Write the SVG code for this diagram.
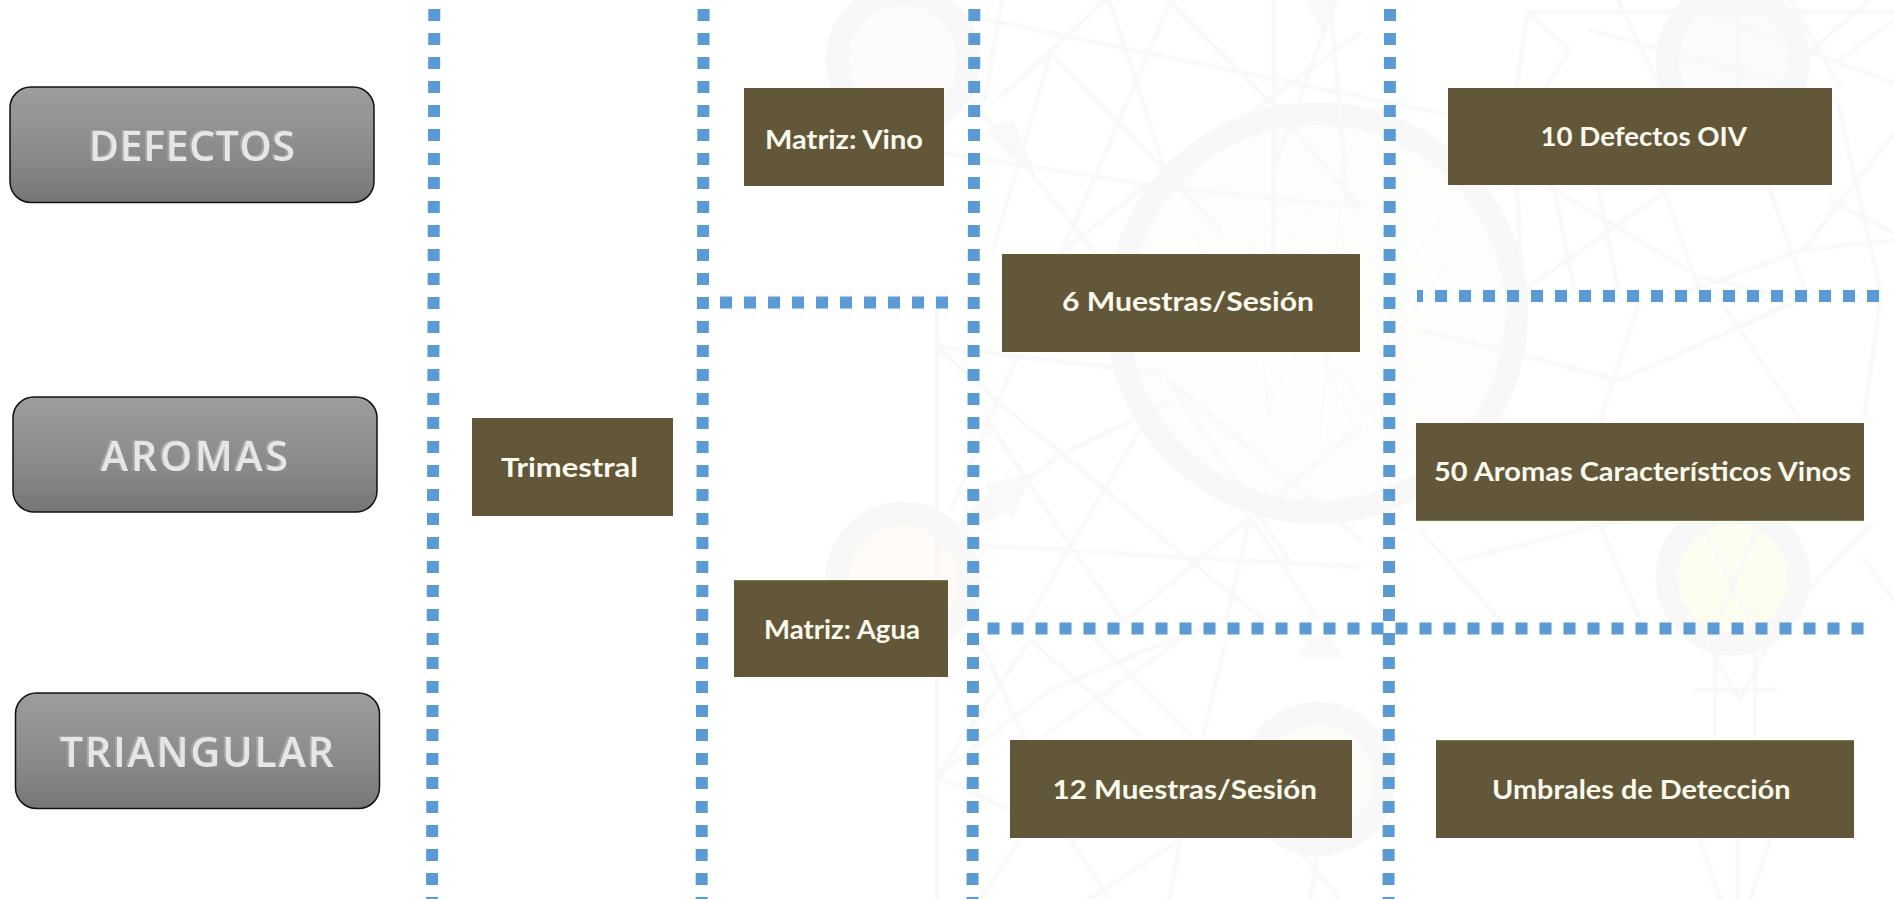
<svg xmlns="http://www.w3.org/2000/svg" width="1894" height="899" viewBox="0 0 1894 899">
<style>
.net{fill:none;stroke:#f8f8f8;stroke-width:4;stroke-linecap:round;filter:blur(1px)}
.fine{fill:none;stroke:#f9f9f7;stroke-width:1}
.ring{stroke:#f8f8f8;stroke-width:23}
.arrow{fill:#f9f9f9}
.dots{fill:none;stroke:#5b9bd5;stroke-width:12;stroke-dasharray:12 12}
.box{fill:#625839}
.edge{stroke:#6f8040;stroke-width:1.2}
.btn{fill:url(#g);stroke:#111;stroke-width:1.5}
.lab{font-family:"Lato","Liberation Sans",sans-serif;font-weight:700;font-size:27px;fill:#fbf8ee}
.big{font-family:"Open Sans","Liberation Sans",sans-serif;font-weight:600;font-size:41px;fill:#e6e6e6;filter:drop-shadow(-1.2px -0.6px 0.4px #a6a6a6)}
</style>
<defs>
<linearGradient id="g" x1="0" y1="0" x2="0" y2="1">
<stop offset="0" stop-color="#9d9d9d"/><stop offset="0.6" stop-color="#8a8a8a"/><stop offset="1" stop-color="#767676"/>
</linearGradient>
</defs>
<rect width="1894" height="899" fill="#fff"/>
<g id="background">
<circle class="ring" cx="903" cy="60" r="66" fill="#fdfcfa"/>
<circle class="ring" cx="903" cy="579" r="66" fill="#fefaf6"/>
<circle class="ring" cx="1733" cy="60" r="66" fill="#fafbfd"/>
<circle class="ring" cx="1733" cy="578" r="66" fill="#fefef0"/>
<circle class="ring" cx="1317" cy="313" r="199.500" fill="#fdfdfb"/>
<circle class="ring" cx="1318" cy="779" r="66" fill="#fcfdf8"/>
<path class="arrow" d="M1013 120L1032 165L1010 158L985 130Z"/>
<path class="arrow" d="M1032 473L985 484L990 493L958 522L965 532L1006 512L1013 518Z"/>
<path class="arrow" d="M1304 0L1323 33L1338 0Z"/>
<path class="arrow" d="M1309 637L1299 657L1343 657L1330 637Z"/>
<path class="net" d="M940 10L1360 97L1527 130M1051 53L1164 170L1220 230M1000 97L1106 0M1109 0L1164 167M1171 0L1095 177L1061 253M1171 3L1268 100L1360 207M1051 53L992 253M1002 0L985 100M972 100L1075 227L1095 253M1144 187L1061 253M944 153L1164 187L1360 207M1360 33L1268 100L1164 180M1336 0L1274 167M1274 0V253M1330 0L1347 200M1000 97L1051 53"/>
<path class="net" d="M937 300V899M937 347L999 403L1061 453L1185 557L1268 623M937 543L1061 455L1168 403M1016 360L992 413L951 510M985 417L1071 547L1123 623M1140 430L1068 550L1027 623M937 543L1360 567M1250 517L1123 623M1250 517L1226 623M1250 517L1316 617M1168 380L1288 560M1360 427L1257 513M1168 380L1360 540M937 347L1160 373"/>
<path class="net" d="M937 776L1050 690L1220 620M937 776L1030 640M937 776L1075 840M980 640L1025 740M1095 640L1190 735M1180 640L1010 760M1225 645L1203 735M1140 735L1030 640M1020 840L980 899M1070 840L1110 899M1180 840L1090 899M1180 840L1170 899M1290 840L1340 899M1320 840L1310 899"/>
<path class="net" d="M1527 12H1894M1738 0V87M1894 83L1718 17M1527 13L1517 87M1570 50L1527 13M1570 50L1545 87M1618 0L1660 87M1590 30L1800 87M1790 0L1840 87M1870 0L1800 60M1840 60L1894 20"/>
<path class="net" d="M1517 187L1523 300M1554 187L1575 293M1598 187L1619 293M1663 187L1700 293M1769 187L1806 293M1830 200L1894 233M1894 133L1803 250L1684 293M1803 250L1894 240M1837 100L1881 293M1550 187L1700 277L1803 300M1660 195L1520 293"/>
<path class="net" d="M1420 330L1620 380L1800 300M1640 300L1600 420M1720 300L1800 420M1880 300L1864 420M1460 560L1600 525L1730 500M1420 530L1500 620M1600 525L1640 620M1870 525L1780 620M1864 560L1894 600"/>
<path class="net" d="M1705 640L1740 700L1770 640M1715 640V735M1755 640V735M1695 690H1775M1700 840L1720 899M1770 840L1750 899M1738 840V899M1700 520L1760 640M1765 510L1710 640"/>
<path class="fine" d="M1190 230L1240 300L1310 215L1390 290L1440 220M1200 290L1300 250L1400 330L1450 260M1230 360L1300 300L1350 420L1430 370M1270 400L1310 330L1390 440M1210 240L1360 200M1340 210L1320 440M1180 330L1440 350M1250 240L1270 420M1400 240L1380 420"/>
</g>
<g id="connectors">
<line class="dots" x1="434.300" y1="9" x2="432" y2="899"/>
<line class="dots" x1="703.600" y1="9" x2="701.600" y2="899"/>
<line class="dots" x1="974.300" y1="9" x2="972.500" y2="899"/>
<line class="dots" x1="1390" y1="9" x2="1388.500" y2="899"/>
<line class="dots" x1="720" y1="302.500" x2="948" y2="302.500"/>
<line class="dots" x1="1417" y1="296" x2="1879" y2="296" stroke-dashoffset="6"/>
<line class="dots" x1="987.500" y1="628.500" x2="1864" y2="628.500"/>
</g>
<g id="n-defectos"><rect class="btn" x="10" y="87" width="364" height="115.500" rx="21"/><text class="big" x="89" y="160.500" textLength="206">DEFECTOS</text></g>
<g id="n-aromas"><rect class="btn" x="13" y="397" width="364" height="115" rx="21"/><text class="big" x="101" y="470.500" textLength="187">AROMAS</text></g>
<g id="n-triangular"><rect class="btn" x="15.500" y="693" width="364" height="115.500" rx="21"/><text class="big" x="60" y="766.500" textLength="274">TRIANGULAR</text></g>
<g id="n-trimestral"><rect class="box" x="472" y="418" width="201" height="98"/><text class="lab" x="501" y="477" textLength="137" lengthAdjust="spacingAndGlyphs">Trimestral</text></g>
<g id="n-vino"><rect class="box" x="744" y="88" width="200" height="98"/><text class="lab" x="765" y="148.500" textLength="158" lengthAdjust="spacingAndGlyphs">Matriz: Vino</text></g>
<g id="n-agua"><rect class="box" x="734" y="580" width="214" height="97"/><line class="edge" x1="734" y1="580.500" x2="948" y2="580.500"/><text class="lab" x="764" y="639" textLength="156" lengthAdjust="spacingAndGlyphs">Matriz: Agua</text></g>
<g id="n-6m"><rect class="box" x="1002" y="254" width="358" height="98"/><text class="lab" x="1062" y="311" textLength="252" lengthAdjust="spacingAndGlyphs">6 Muestras/Sesión</text></g>
<g id="n-12m"><rect class="box" x="1010" y="740" width="342" height="98"/><text class="lab" x="1052.500" y="799" textLength="264.500" lengthAdjust="spacingAndGlyphs">12 Muestras/Sesión</text></g>
<g id="n-10d"><rect class="box" x="1448" y="88" width="384" height="97"/><text class="lab" x="1540.500" y="146" textLength="206.500" lengthAdjust="spacingAndGlyphs">10 Defectos OIV</text></g>
<g id="n-50a"><rect class="box" x="1416" y="423" width="448" height="98"/><line class="edge" x1="1416" y1="520.500" x2="1864" y2="520.500"/><text class="lab" x="1434" y="481" textLength="417" lengthAdjust="spacingAndGlyphs">50 Aromas Característicos Vinos</text></g>
<g id="n-umbrales"><rect class="box" x="1436" y="740" width="418" height="98"/><line class="edge" x1="1436" y1="740.500" x2="1854" y2="740.500"/><text class="lab" x="1492" y="799" textLength="298.500" lengthAdjust="spacingAndGlyphs">Umbrales de Detección</text></g>
</svg>
